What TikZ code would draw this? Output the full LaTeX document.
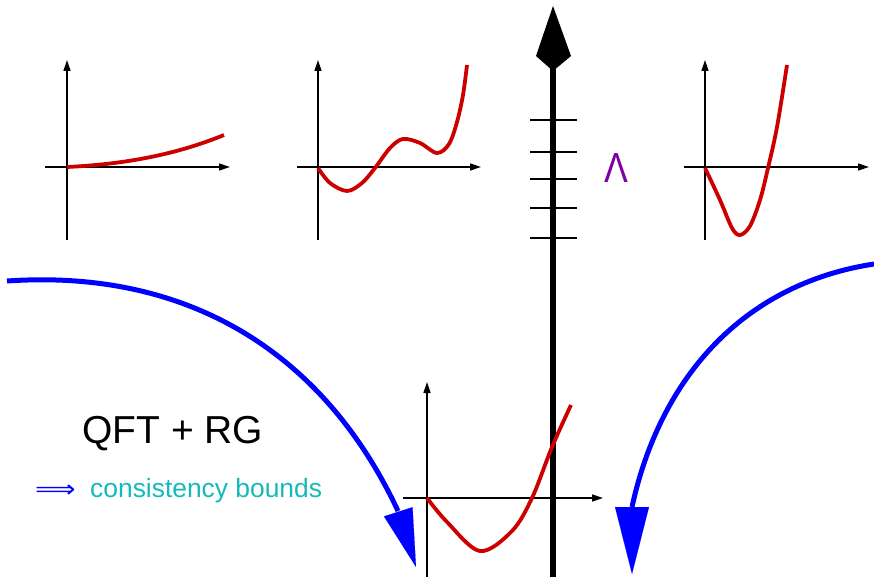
\documentclass[tikz,border=0pt]{standalone}
\usepackage{fontspec}
\setmainfont{Liberation Sans}
\newfontfamily\symbfont{DejaVu Sans}
\usetikzlibrary{arrows.meta}
\definecolor{curvered}{RGB}{205,0,0}
\definecolor{arrowblue}{RGB}{0,0,255}
\definecolor{lampurple}{RGB}{128,0,165}
\definecolor{tealtext}{RGB}{20,185,185}
\begin{document}
\begin{tikzpicture}[x=1pt,y=-1pt,
  axisline/.style={line width=1.5pt,-{Triangle[length=11pt,width=7pt]}},
  fn/.style={curvered,line width=3.8pt},
  bluecurve/.style={arrowblue,line width=5pt},
  bluehead/.style={arrowblue,line width=0.1pt},
  tick/.style={line width=2.2pt},
  txt/.style={inner sep=0pt,anchor=base west}]
\useasboundingbox (0,0) rectangle (874,577);

% plot 1
\coordinate (o1) at (67,167);
\coordinate (y1b) at (67,240); \coordinate (y1t) at (67,60);
\coordinate (x1l) at (45,167); \coordinate (x1r) at (230,167);
\draw[axisline] (y1b) -- (y1t);
\draw[axisline] (x1l) -- (x1r);
\draw[fn] (o1) .. controls (130,164) and (180,153) .. (224,135);

% plot 2
\coordinate (o2) at (318,167);
\coordinate (y2b) at (318,240); \coordinate (y2t) at (318,60);
\coordinate (x2l) at (297,167); \coordinate (x2r) at (481,167);
\draw[axisline] (y2b) -- (y2t);
\draw[axisline] (x2l) -- (x2r);
\draw[fn] plot[smooth,tension=0.55] coordinates {(318,168) (330,183) (347,191) (362,183) (375,168) (390,148) (403,139) (420,143) (437,153) (449,144) (457,122) (463,95) (467,65)};

% plot 3
\coordinate (o3) at (705,167);
\coordinate (y3b) at (705,240); \coordinate (y3t) at (705,60);
\coordinate (x3l) at (684,167); \coordinate (x3r) at (869,167);
\draw[axisline] (y3b) -- (y3t);
\draw[axisline] (x3l) -- (x3r);
\draw[fn] plot[smooth,tension=0.55] coordinates {(705,168) (720,200) (732,228) (740,235) (750,226) (760,200) (768,168) (777,127) (787,65)};

% plot 4
\coordinate (o4) at (427,498);
\coordinate (y4b) at (427,577); \coordinate (y4t) at (427,382);
\coordinate (x4l) at (403,498); \coordinate (x4r) at (603,498);
\draw[axisline] (y4b) -- (y4t);
\draw[axisline] (x4l) -- (x4r);

% thick scale axis
\coordinate (lb) at (553,577);
\coordinate (lt) at (553,66);
\draw[line width=6pt] (lb) -- (lt);
\fill (553,6) -- (571,56) -- (553,71) -- (536,56) -- cycle;
\foreach \yy in {120,152,179,208,238}
  \draw[tick] (530,\yy) -- (577,\yy);
\node[txt,lampurple,xscale=0.85] (lam) at (604,183) {\fontsize{42}{46}\selectfont Λ};

\draw[fn] plot[smooth,tension=0.55] coordinates {(427,498) (447,522) (480,551) (512,531) (532,498) (552,447) (571,405)};

% blue arrows
\coordinate (la) at (7,281);
\coordinate (lbase) at (398,511);
\coordinate (ltip) at (416,567);
\draw[bluecurve] (la) .. controls (197,268) and (328,361) .. (lbase);
\draw[bluehead,-{Triangle[length=58pt,width=30pt]}] (lbase) -- (ltip);

\coordinate (ra) at (874,264);
\coordinate (rbase) at (632,507);
\coordinate (rtip) at (632,574);
\draw[bluecurve] (ra) .. controls (743,284) and (660,378) .. (rbase);
\draw[bluehead,-{Triangle[length=67pt,width=34pt]}] (rbase) -- (rtip);

% texts
\node[txt] (qft) at (82,443) {\fontsize{39}{44}\selectfont QFT + RG};
\node[txt,arrowblue,xscale=1.18] (impl) at (35,497) {\fontsize{24}{28}\symbfont ⟹};
\node[txt,tealtext] (cons) at (90,497) {\fontsize{26.4}{30}\selectfont consistency bounds};
\end{tikzpicture}
\end{document}
